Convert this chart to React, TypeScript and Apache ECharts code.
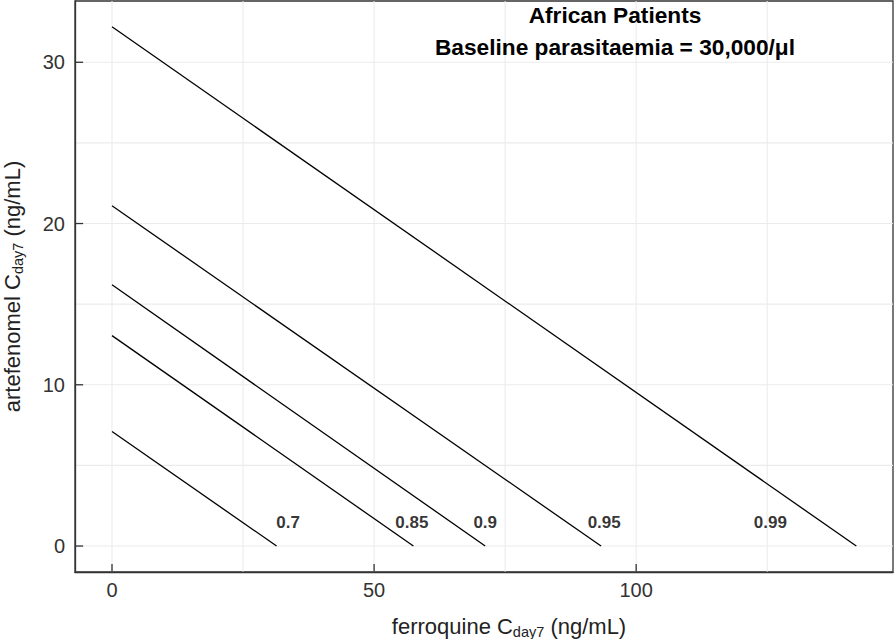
import React, { useEffect, useRef } from "react";
import * as echarts from "echarts";

const contourLevels = ["0.7", "0.85", "0.9", "0.95", "0.99"];
const artefenomelIntercepts = [7.1, 13.05, 16.2, 21.1, 32.2];
const ferroquineIntercepts = [31.4, 57.5, 71.2, 93.3, 142.0];
const labelX = [33.6, 57.2, 71.2, 93.9, 125.6];
const labelY = [1.45, 1.45, 1.45, 1.45, 1.45];
const xTicks = [0, 50, 100];
const yTicks = [0, 10, 20, 30];
const xGrid = [0, 25, 50, 75, 100, 125];
const yGrid = [0, 5, 10, 15, 20, 25, 30];
const titleLines = ["African Patients", "Baseline parasitaemia = 30,000/μl"];

const X_MIN = -7.06;
const X_MAX = 149;
const Y_MIN = -1.61;
const Y_MAX = 33.8;
// tick mark length expressed in axis units (about 8 px)
const X_TICK_LEN = 1.55;
const Y_TICK_LEN = 0.5;

const FONT = "Liberation Sans, Arial, Helvetica, sans-serif";

export default function App() {
  const ref = useRef<HTMLDivElement>(null);
  useEffect(() => {
    if (!ref.current) return;
    const chart = echarts.init(ref.current, undefined, { renderer: "svg" });
    const seg = (data: number[][], color: string, width: number, z: number) => ({
      type: "line",
      data,
      showSymbol: false,
      symbol: "none",
      lineStyle: { color, width, type: "solid" },
      silent: true,
      clip: false,
      z,
    });
    const gridSeries = [
      ...xGrid.map((v) => seg([[v, Y_MIN], [v, Y_MAX]], "#ebebeb", 1.1, 1)),
      ...yGrid.map((v) => seg([[X_MIN, v], [X_MAX, v]], "#ebebeb", 1.1, 1)),
    ];
    const tickSeries = [
      ...xTicks.map((v) => seg([[v, Y_MIN], [v, Y_MIN + Y_TICK_LEN]], "#333", 1.3, 5)),
      ...yTicks.map((v) => seg([[X_MIN, v], [X_MIN + X_TICK_LEN, v]], "#333", 1.3, 5)),
    ];
    const lineSeries = contourLevels.map((lvl, i) => ({
      ...seg(
        [
          [0, artefenomelIntercepts[i]],
          [ferroquineIntercepts[i], 0],
        ],
        "#000",
        1.3,
        3
      ),
      name: lvl,
    }));
    const axisLineStyle = { color: "#333", width: 1.3 };
    chart.setOption({
      animation: false,
      textStyle: { fontFamily: FONT },
      title: {
        text: titleLines.join("\n"),
        left: 610,
        top: -6,
        textAlign: "center",
        textStyle: {
          fontFamily: FONT,
          fontSize: 22.7,
          fontWeight: "bold",
          color: "#000",
          lineHeight: 32,
        },
      },
      grid: {
        left: 75,
        top: 1,
        right: 1,
        bottom: 67,
        outerBoundsMode: "none",
        containLabel: false,
        show: true,
        borderColor: "#333",
        borderWidth: 1.3,
        backgroundColor: "#fff",
      },
      xAxis: {
        type: "value",
        min: X_MIN,
        max: X_MAX,
        z: 6,
        splitLine: { show: false },
        axisLine: { show: true, onZero: false, lineStyle: axisLineStyle },
        axisTick: { show: false },
        axisLabel: {
          customValues: xTicks,
          fontSize: 20,
          color: "#333",
          margin: 8,
          fontFamily: FONT,
        },
        name: "{a|ferroquine C}{s|day7}{a| (ng/mL)}",
        nameLocation: "middle",
        nameGap: 42,
        nameTextStyle: {
          padding: [0, 0, 0, 50],
          rich: {
            a: { fontSize: 22, color: "#222", fontFamily: FONT },
            s: { fontSize: 14.5, color: "#222", fontFamily: FONT, padding: [10, 0, 0, 0] },
          },
        },
      },
      yAxis: {
        type: "value",
        min: Y_MIN,
        max: Y_MAX,
        z: 6,
        splitLine: { show: false },
        axisLine: { show: true, onZero: false, lineStyle: axisLineStyle },
        axisTick: { show: false },
        axisLabel: {
          customValues: yTicks,
          fontSize: 20,
          color: "#333",
          margin: 10,
          fontFamily: FONT,
        },
        name: "{a|artefenomel C}{s|day7}{a| (ng/mL)}",
        nameLocation: "middle",
        nameGap: 50,
        nameRotate: 90,
        nameTextStyle: {
          rich: {
            a: { fontSize: 22, color: "#222", fontFamily: FONT },
            s: { fontSize: 14.5, color: "#222", fontFamily: FONT, padding: [10, 0, 0, 0] },
          },
        },
      },
      series: [
        ...gridSeries,
        ...lineSeries,
        ...tickSeries,
        {
          type: "scatter",
          symbolSize: 0,
          silent: true,
          z: 4,
          data: contourLevels.map((lvl, i) => ({
            name: lvl,
            value: [labelX[i], labelY[i]],
          })),
          label: {
            show: true,
            position: "inside",
            formatter: "{b}",
            fontSize: 17,
            fontWeight: "bold",
            color: "#000",
            fontFamily: FONT,
          },
        },
      ],
    });
    return () => chart.dispose();
  }, []);
  return (
    <div
      ref={ref}
      style={{ position: "absolute", left: 0, top: 0, width: 894, height: 639 }}
    />
  );
}
